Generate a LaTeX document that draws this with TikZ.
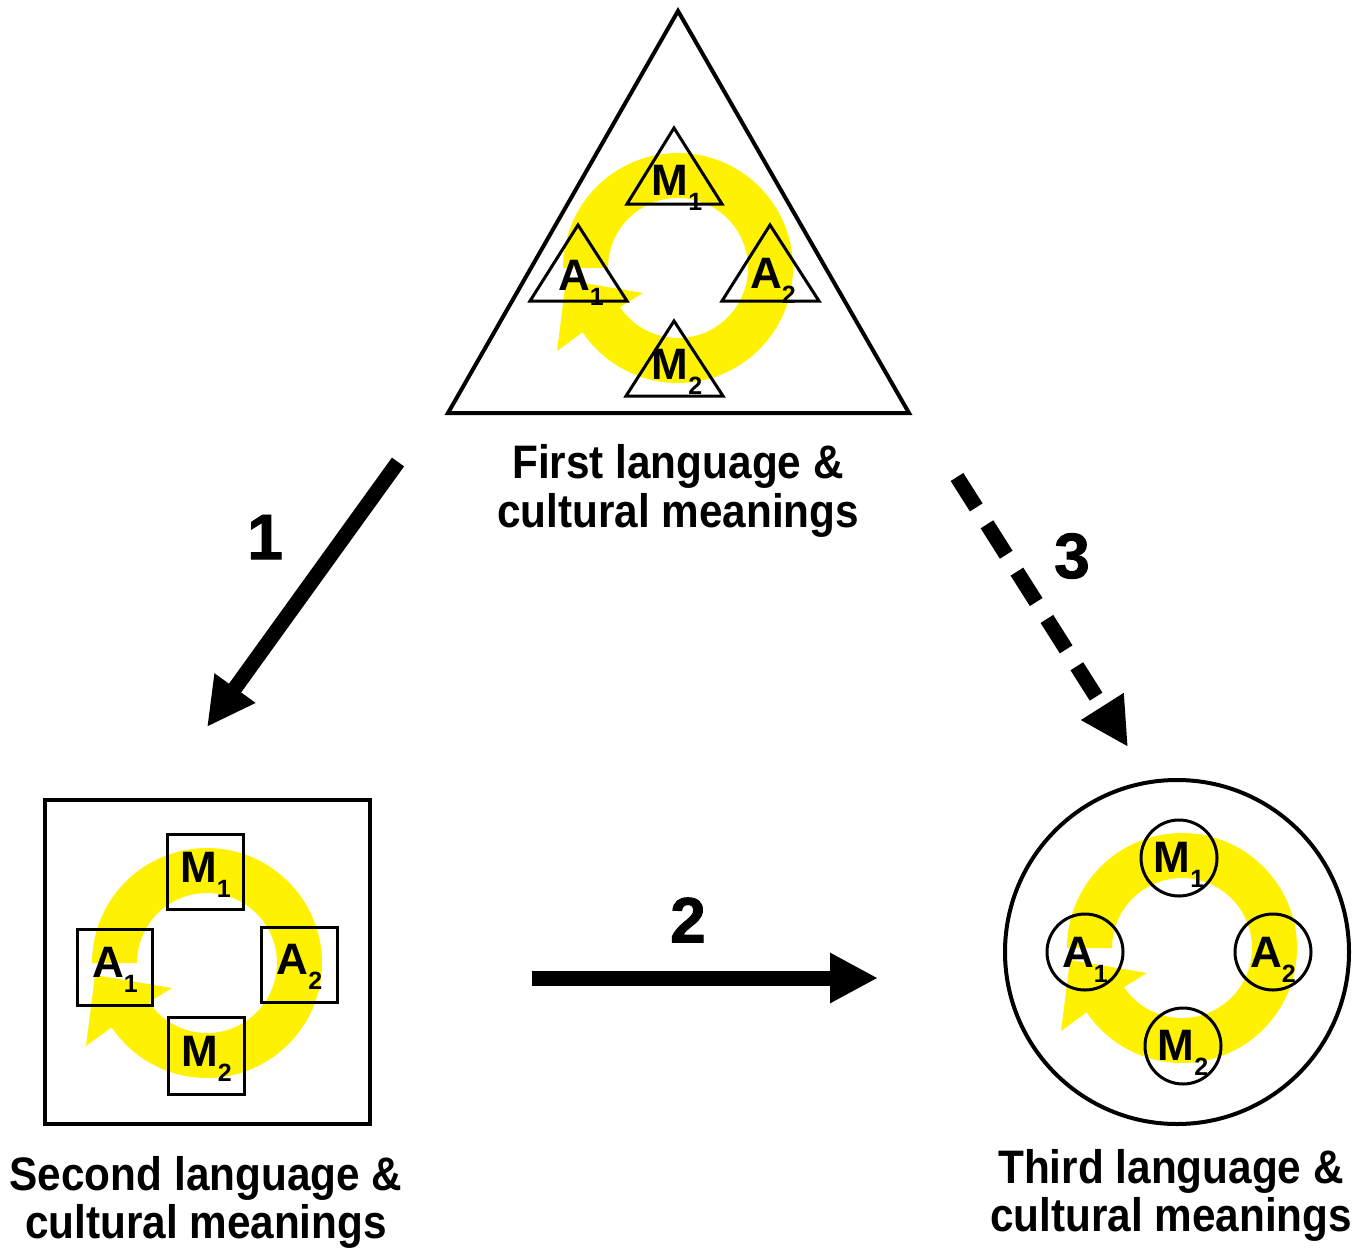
\documentclass[tikz,border=0pt]{standalone}
\usepackage{fontspec}
\usetikzlibrary{arrows.meta}
\newfontfamily\labfont[FakeStretch=0.9]{Liberation Sans}
\newfontfamily\letfont{Liberation Sans}
\newfontfamily\numfont[FakeBold=1.5]{Liberation Sans}
\newcommand{\lsub}[2]{#1\raisebox{-15pt}{\fontsize{25}{25}\selectfont #2}}
\newcommand{\yring}[1]{%
  \fill[ringfill] ([shift={(180:115)}]#1) arc[start angle=180,end angle=506,radius=115]
    -- ([shift={(-121,83)}]#1) -- ([shift={(-112,12)}]#1) -- ([shift={(-35,25)}]#1)
    -- ([shift={(506:70)}]#1) arc[start angle=506,end angle=180,radius=70] -- cycle;}
\tikzset{
  ringfill/.style={fill=yellow},
  shp/.style={draw, line width=3pt},
  bigshp/.style={draw, line width=4pt},
  lett/.style={inner sep=0pt, anchor=base, font=\letfont\bfseries\fontsize{44}{44}\selectfont},
  lab/.style={inner sep=0pt, anchor=base, font=\labfont\bfseries\fontsize{47}{49}\selectfont},
  num/.style={inner sep=0pt, font=\numfont\bfseries\fontsize{64}{64}\selectfont},
  bigarrow/.style={line width=15pt, -{Triangle[length=48pt,width=47pt]}},
}
\begin{document}
\begin{tikzpicture}[x=1pt,y=-1pt,line join=miter]
\useasboundingbox (0,0) rectangle (1367,1247);
% ring centres
\coordinate (rT) at (678,268);
\coordinate (rS) at (207,963);
\coordinate (rC) at (1182,948);
\yring{rT}
\yring{rS}
\yring{rC}
% first: triangles
\draw[bigshp] (678,11) -- (909,413) -- (448,413) -- cycle;
\draw[shp] (674,128) -- (722,204) -- (627,204) -- cycle;
\draw[shp] (578,225) -- (627,301) -- (530,301) -- cycle;
\draw[shp] (770,225) -- (819,301) -- (722,301) -- cycle;
\draw[shp] (674,321) -- (723,396) -- (626,396) -- cycle;
\node[lett] (tM1) at (677,195) {\lsub{M}{1}};
\node[lett] (tA1) at (581,290) {\lsub{A}{1}};
\node[lett] (tA2) at (773,288) {\lsub{A}{2}};
\node[lett] (tM2) at (677,379) {\lsub{M}{2}};
% second: squares
\draw[bigshp] (45,800) rectangle (370,1124);
\draw[shp] (167.5,834.5) rectangle (243.5,909.5);
\draw[shp] (77.5,929.5) rectangle (152.5,1005.5);
\draw[shp] (261.5,927.5) rectangle (337.5,1002.5);
\draw[shp] (168.5,1017.5) rectangle (244.5,1094.5);
\node[lett] (sM1) at (205.5,882) {\lsub{M}{1}};
\node[lett] (sA1) at (115,977) {\lsub{A}{1}};
\node[lett] (sA2) at (299.5,974) {\lsub{A}{2}};
\node[lett] (sM2) at (206.5,1066) {\lsub{M}{2}};
% third: circles
\draw[bigshp] (1177,952) circle[radius=172];
\draw[shp] (1179,858) circle[radius=38];
\draw[shp] (1085,952) circle[radius=38];
\draw[shp] (1273,952) circle[radius=38];
\draw[shp] (1183,1046) circle[radius=38];
\node[lett] (cM1) at (1179,872) {\lsub{M}{1}};
\node[lett] (cA1) at (1085,967) {\lsub{A}{1}};
\node[lett] (cA2) at (1273,967) {\lsub{A}{2}};
\node[lett] (cM2) at (1183,1060) {\lsub{M}{2}};
% labels
\node[lab] (L1a) at (678,478) {First language \&};
\node[lab] (L1b) at (678,527) {cultural meanings};
\node[lab] (L2a) at (206,1190) {Second language \&};
\node[lab] (L2b) at (206,1238) {cultural meanings};
\node[lab] (L3a) at (1171,1183) {Third language \&};
\node[lab] (L3b) at (1171,1231) {cultural meanings};
% arrows
\coordinate (a1s) at (398,462);
\coordinate (a1e) at (207,727);
\coordinate (a2s) at (532,978);
\coordinate (a2e) at (878,978);
\coordinate (a3s) at (957,477);
\coordinate (a3e) at (1128,747);
\draw[bigarrow] (a1s) -- (a1e);
\draw[bigarrow] (a2s) -- (a2e);
\draw[bigarrow, dash pattern=on 36pt off 20pt] (a3s) -- (a3e);
\node[num] (n1) at (265,537) {1};
\node[num] (n2) at (688,920) {2};
\node[num] (n3) at (1072,556) {3};
\end{tikzpicture}
\end{document}
